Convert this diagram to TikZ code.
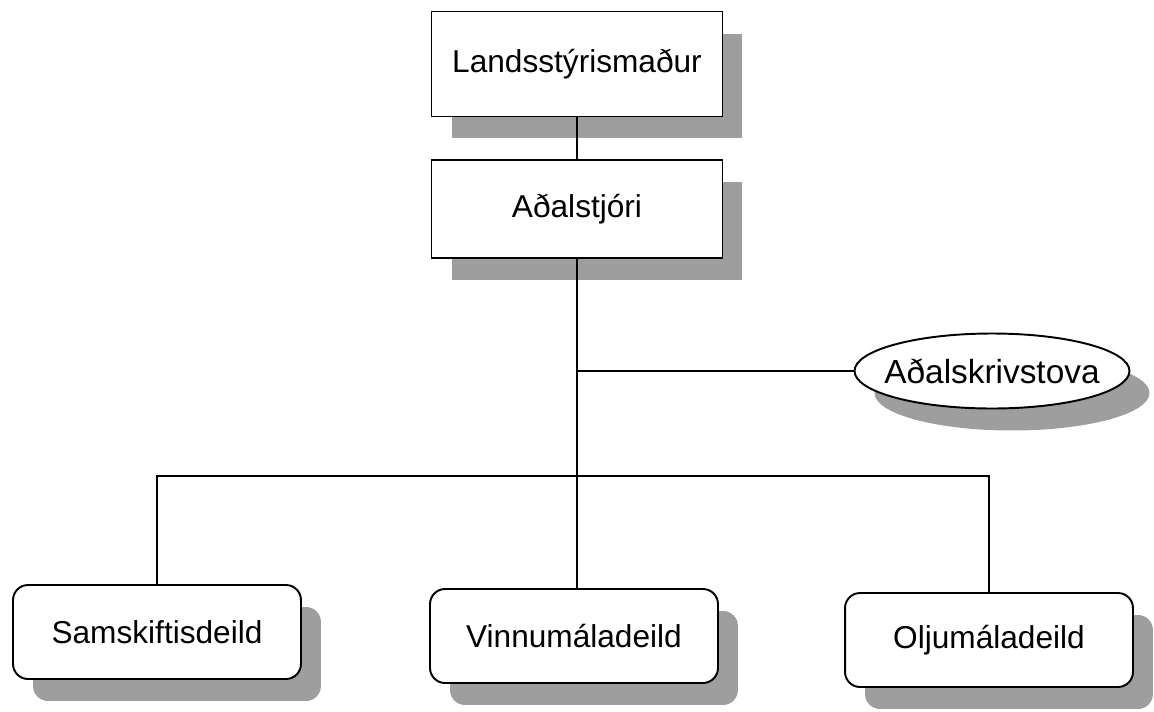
\documentclass[tikz,border=0pt]{standalone}
\usepackage{fontspec}
\setmainfont{Liberation Sans}
\usetikzlibrary{shapes.geometric,shadows}

\begin{document}
\begin{tikzpicture}[x=0.02cm,y=-0.02cm,
  every node/.style={font=\fontsize{18}{22}\selectfont},
  boxshadow/.style={drop shadow={shadow xshift=0.4cm,shadow yshift=-0.44cm,fill=black!38,opacity=1}},
  chief/.style={draw,line width=1.1pt,fill=white,minimum width=5.82cm,boxshadow},
  dept/.style={draw,line width=1.1pt,fill=white,rounded corners=0.3cm,minimum width=5.76cm,minimum height=1.88cm,boxshadow},
  office/.style={ellipse,draw,line width=1.1pt,fill=white,minimum width=5.5cm,minimum height=1.5cm,inner xsep=-0.25cm,font=\fontsize{19}{23}\selectfont,boxshadow},
  link/.style={line width=0.6pt}]
\useasboundingbox (0,0) rectangle (1154,711);

% heads
\node[chief,minimum height=2.1cm] (lands) at (577,64) {Landsstýrismaður};
\node[chief,minimum height=1.96cm] (adal) at (577,209) {Aðalstjóri};
\node[office] (skriv) at (992,371) {Aðalskrivstova};

% departments
\node[dept] (samsk) at (157,632) {Samskiftisdeild};
\node[dept] (vinnu) at (574,636) {Vinnumáladeild};
\node[dept] (olju) at (989,640) {Oljumáladeild};

\coordinate (bus) at (576,476);

\draw[link] (lands) -- (adal);
\draw[link] (adal.south) -- (adal.south |- vinnu.north);
\draw[link] (adal.south |- skriv.west) -- (skriv.west);
\draw[link] (samsk.north) |- (bus) -| (olju.north);
\end{tikzpicture}
\end{document}
